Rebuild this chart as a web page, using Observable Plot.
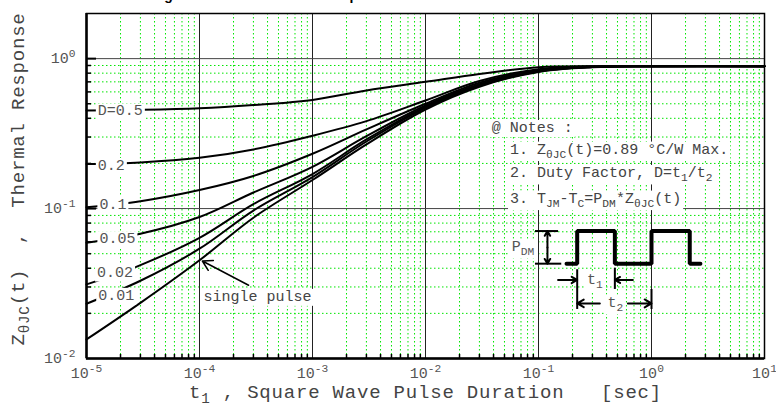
<!DOCTYPE html>
<html><head><meta charset="utf-8">
<script src="https://cdn.jsdelivr.net/npm/d3@7"></script>
<script src="https://cdn.jsdelivr.net/npm/@observablehq/plot@0.6"></script>
<style>html,body{margin:0;padding:0;background:#fff;overflow:hidden} svg{display:block}</style>
</head><body><div id="chart"></div>
<script>
// ---- data ----
const times   = [1e-5, 3e-5, 1e-4, 3e-4, 1e-3, 3e-3, 1e-2, 3e-2, 1e-1, 3e-1, 1, 10];
const zSingle = [0.0134,0.0235,0.0452,0.0869,0.155,0.268,0.458,0.65,0.815,0.875,0.89,0.89];
const z001    = [0.0232,0.033,0.054,0.097,0.162,0.28,0.47,0.66,0.82,0.878,0.89,0.89];
const z002    = [0.0312,0.042,0.0638,0.107,0.17,0.289,0.477,0.665,0.825,0.88,0.89,0.89];
const z005    = [0.0592,0.068,0.0878,0.128,0.19,0.304,0.487,0.675,0.83,0.883,0.89,0.89];
const z01     = [0.102,0.112,0.133,0.165,0.232,0.337,0.50,0.69,0.84,0.886,0.89,0.89];
const z02     = [0.198,0.203,0.218,0.248,0.306,0.383,0.526,0.71,0.85,0.888,0.89,0.89];
const z05     = [0.451,0.455,0.466,0.49,0.53,0.614,0.70,0.79,0.877,0.89,0.89,0.89];
const seriesNames  = ["single pulse","0.01","0.02","0.05","0.1","0.2","0.5"];
const seriesValues = [zSingle, z001, z002, z005, z01, z02, z05];

const curveLabels  = ["D=0.5","0.2","0.1","0.05","0.02","0.01"];
const curveLabelT  = [1.26e-5,1.26e-5,1.3e-5,1.3e-5,1.24e-5,1.27e-5];
const curveLabelZ  = [0.45,0.195,0.107,0.0633,0.0379,0.0265];

const xTicks = [1e-5,1e-4,1e-3,1e-2,1e-1,1,10];
const xTickLabels = ["10^{-5}","10^{-4}","10^{-3}","10^{-2}","10^{-1}","10^{0}","10^{1}"];
const yTicks = [0.01,0.1,1];
const yTickLabels = ["10^{-2}","10^{-1}","10^{0}"];

const xTitle = "t_{1} , Square Wave Pulse Duration   [sec]";
const yTitle = "Z_{θJC}(t)  ,  Thermal Response";
const chartTitle = "Fig. 11 Transient Thermal Response Curve";

const noteLines = ["@ Notes :", "1. Z_{θJC}(t)=0.89 °C/W Max.", "2. Duty Factor, D=t_{1}/t_{2}", "3. T_{JM}-T_{C}=P_{DM}*Z_{θJC}(t)"];
const noteT = [0.0386, 0.056, 0.056, 0.056];
const noteZ = [0.349, 0.2505, 0.175, 0.118];

const pulseT = [0.177,0.22,0.22,0.474,0.474,1.0,1.0,2.18,2.18,2.71];
const pulseZ = [0.0429,0.0429,0.0708,0.0708,0.0429,0.0429,0.0708,0.0708,0.0429,0.0429];
const dimLines = [
  {x1:0.0931,y1:0.0708,x2:0.149,y2:0.0708},
  {x1:0.0931,y1:0.0429,x2:0.159,y2:0.0429},
  {x1:0.22,y1:0.0394,x2:0.22,y2:0.0214},
  {x1:0.474,y1:0.0403,x2:0.474,y2:0.0291},
  {x1:1.0,y1:0.0291,x2:1.0,y2:0.0214}
];
const dimArrows = [
  {x1:0.12,y1:0.0551,x2:0.12,y2:0.0708},
  {x1:0.12,y1:0.0551,x2:0.12,y2:0.0429},
  {x1:0.149,y1:0.0334,x2:0.22,y2:0.0334},
  {x1:0.684,y1:0.0334,x2:0.474,y2:0.0334},
  {x1:0.349,y1:0.0233,x2:0.22,y2:0.0233},
  {x1:0.618,y1:0.0233,x2:1.0,y2:0.0233}
];
const dimLabels = ["P_{DM}","t_{1}","t_{2}"];
const dimLabelT = [0.073,0.315,0.479];
const dimLabelZ = [0.0562,0.0339,0.0239];

const singleLabel = "single pulse";
const singleLabelT = 1.087e-4, singleLabelZ = 0.0261;
const singleArrow = [{x1:2.72e-4,y1:0.0308,x2:1.06e-4,y2:0.0447}];

// ---- derived tables ----
const curveRows = seriesNames.flatMap((s, j) => times.map((t, i) => ({series: s, t, z: seriesValues[j][i]})));
const pulseRows = pulseT.map((t, i) => ({t, z: pulseZ[i]}));
const minorX = [], minorY = [];
for (const d of [1e-5,1e-4,1e-3,1e-2,1e-1,1]) for (let k = 2; k <= 9; k++) minorX.push(+(k*d).toPrecision(3));
for (const d of [0.01,0.1]) for (let k = 2; k <= 9; k++) minorY.push(+(k*d).toPrecision(3));
const xLab = new Map(xTicks.map((d,i)=>[d, xTickLabels[i]]));
const yLab = new Map(yTicks.map((d,i)=>[d, yTickLabels[i]]));

const mono = "'Liberation Mono', 'DejaVu Sans Mono', monospace";
const green = {stroke: "#00e600", strokeWidth: 1, strokeDasharray: "1.5,2.5"};
const frameH = 410 - 13 - 52, frameW = 776 - 86 - 12;

const chart = Plot.plot({
  width: 776, height: 410,
  marginLeft: 86, marginRight: 12, marginTop: 13, marginBottom: 52,
  style: {fontFamily: mono, fontSize: "15px", color: "#444", background: "#fff"},
  x: {type: "log", domain: [1e-5, 10]},
  y: {type: "log", domain: [0.01, 2]},
  marks: [
    Plot.ruleX(minorX, green),
    Plot.ruleY(minorY, green),
    Plot.ruleX(xTicks.slice(1, -1), {stroke: "#222", strokeWidth: 1}),
    Plot.ruleY([0.1, 1], {stroke: "#444", strokeWidth: 1}),
    // pulse diagram
    Plot.link(dimLines, {x1:"x1", y1:"y1", x2:"x2", y2:"y2", stroke:"black", strokeWidth:2}),
    Plot.arrow(dimArrows, {x1:"x1", y1:"y1", x2:"x2", y2:"y2", stroke:"black", strokeWidth:2, headLength:8}),
    Plot.line(pulseRows, {x:"t", y:"z", stroke:"black", strokeWidth:4, strokeLinejoin:"miter"}),
    Plot.text(dimLabels, {x:(d,i)=>dimLabelT[i], y:(d,i)=>dimLabelZ[i], text:d=>d, fill:"#555", fontSize:15, className:"boxed"}),
    // curves
    Plot.line(curveRows, {x:"t", y:"z", z:"series", stroke:"black", strokeWidth:2, curve:"catmull-rom"}),
    Plot.text(curveLabels, {x:(d,i)=>curveLabelT[i], y:(d,i)=>curveLabelZ[i], text:d=>d, textAnchor:"start", fill:"#555", fontSize:15, className:"boxed"}),
    Plot.text([singleLabel], {x:singleLabelT, y:singleLabelZ, text:d=>d, textAnchor:"start", fill:"#444", fontSize:15, className:"boxed"}),
    Plot.arrow(singleArrow, {x1:"x1", y1:"y1", x2:"x2", y2:"y2", stroke:"black", strokeWidth:1.5, headLength:11}),
    // notes
    Plot.text(noteLines, {x:(d,i)=>noteT[i], y:(d,i)=>noteZ[i], text:d=>d, textAnchor:"start", fill:"#444", fontSize:15, className:"boxed"}),
    // ticks and frame
    Plot.tickY([0.1, 1], {stroke:"black", strokeWidth:2, insetRight: frameW - 10}),
    Plot.tickY(minorY, {stroke:"black", strokeWidth:1.5, insetRight: frameW - 5}),
    Plot.tickX(minorX, {stroke:"black", strokeWidth:1.5, insetTop: frameH - 4}),
    Plot.frame({stroke:"black", strokeWidth:1.5}),
    Plot.ruleX([1e-5], {stroke:"black", strokeWidth:2.5}),
    Plot.ruleY([0.01], {stroke:"black", strokeWidth:2.5}),
    Plot.axisX({ticks: xTicks, tickSize: 0, tickPadding: 9, tickFormat: d => xLab.get(d), label: null, fill: "#555"}),
    Plot.axisY({ticks: yTicks, tickSize: 0, tickPadding: 11, tickFormat: d => yLab.get(d), label: null, fill: "#555"}),
    Plot.text([xTitle], {frameAnchor:"bottom", dy: 39, text:d=>d, fontSize:19, fill:"#444", className:"axtitle"}),
    Plot.text([yTitle], {frameAnchor:"left", textAnchor:"middle", rotate:-90, dx:-69, dy:-7, text:d=>d, fontSize:19, fill:"#444", className:"axtitle"})
  ]
});
document.getElementById("chart").appendChild(chart);

// rich text: _{sub} and ^{sup}
const NS = "http://www.w3.org/2000/svg";
function rich(el) {
  const s = el.textContent;
  if (!/[_^]\{/.test(s)) return;
  const fs = parseFloat(getComputedStyle(el).fontSize) || 15;
  el.textContent = "";
  const re = /([_^])\{([^}]*)\}/g;
  let last = 0, m, pending = 0;
  const add = (txt, shift, small) => {
    const t = document.createElementNS(NS, "tspan");
    t.textContent = txt;
    const dy = shift - pending;
    if (dy) t.setAttribute("dy", dy);
    pending = shift;
    if (small) t.setAttribute("font-size", "75%");
    el.appendChild(t);
  };
  while ((m = re.exec(s))) {
    if (m.index > last) add(s.slice(last, m.index), 0, false);
    add(m[2], m[1] === "_" ? +(0.3*fs).toFixed(1) : -(0.4*fs).toFixed(1), true);
    last = re.lastIndex;
  }
  if (last < s.length) add(s.slice(last), 0, false);
}
d3.select(chart).selectAll("text").style("white-space", "pre").each(function() { rich(this); });
d3.select(chart).selectAll(".axtitle text").style("letter-spacing", "0.8px");

// white boxes behind annotation texts (as in the reference)
d3.select(chart).selectAll(".boxed text").each(function() {
  const b = this.getBBox();
  const r = document.createElementNS(NS, "rect");
  r.setAttribute("x", b.x - 2); r.setAttribute("y", b.y);
  r.setAttribute("width", b.width + 4); r.setAttribute("height", b.height);
  r.setAttribute("fill", "white");
  const tr = this.getAttribute("transform");
  if (tr) r.setAttribute("transform", tr);
  this.parentNode.insertBefore(r, this);
});

// chart title (mostly above the visible area, as in the reference)
d3.select(chart).append("text")
  .attr("x", 293).attr("y", -0.5)
  .attr("font-family", "'Liberation Sans', Arial, sans-serif")
  .attr("font-weight", "bold").attr("font-size", 14).attr("fill", "#000")
  .text(chartTitle);
</script>
</body></html>
